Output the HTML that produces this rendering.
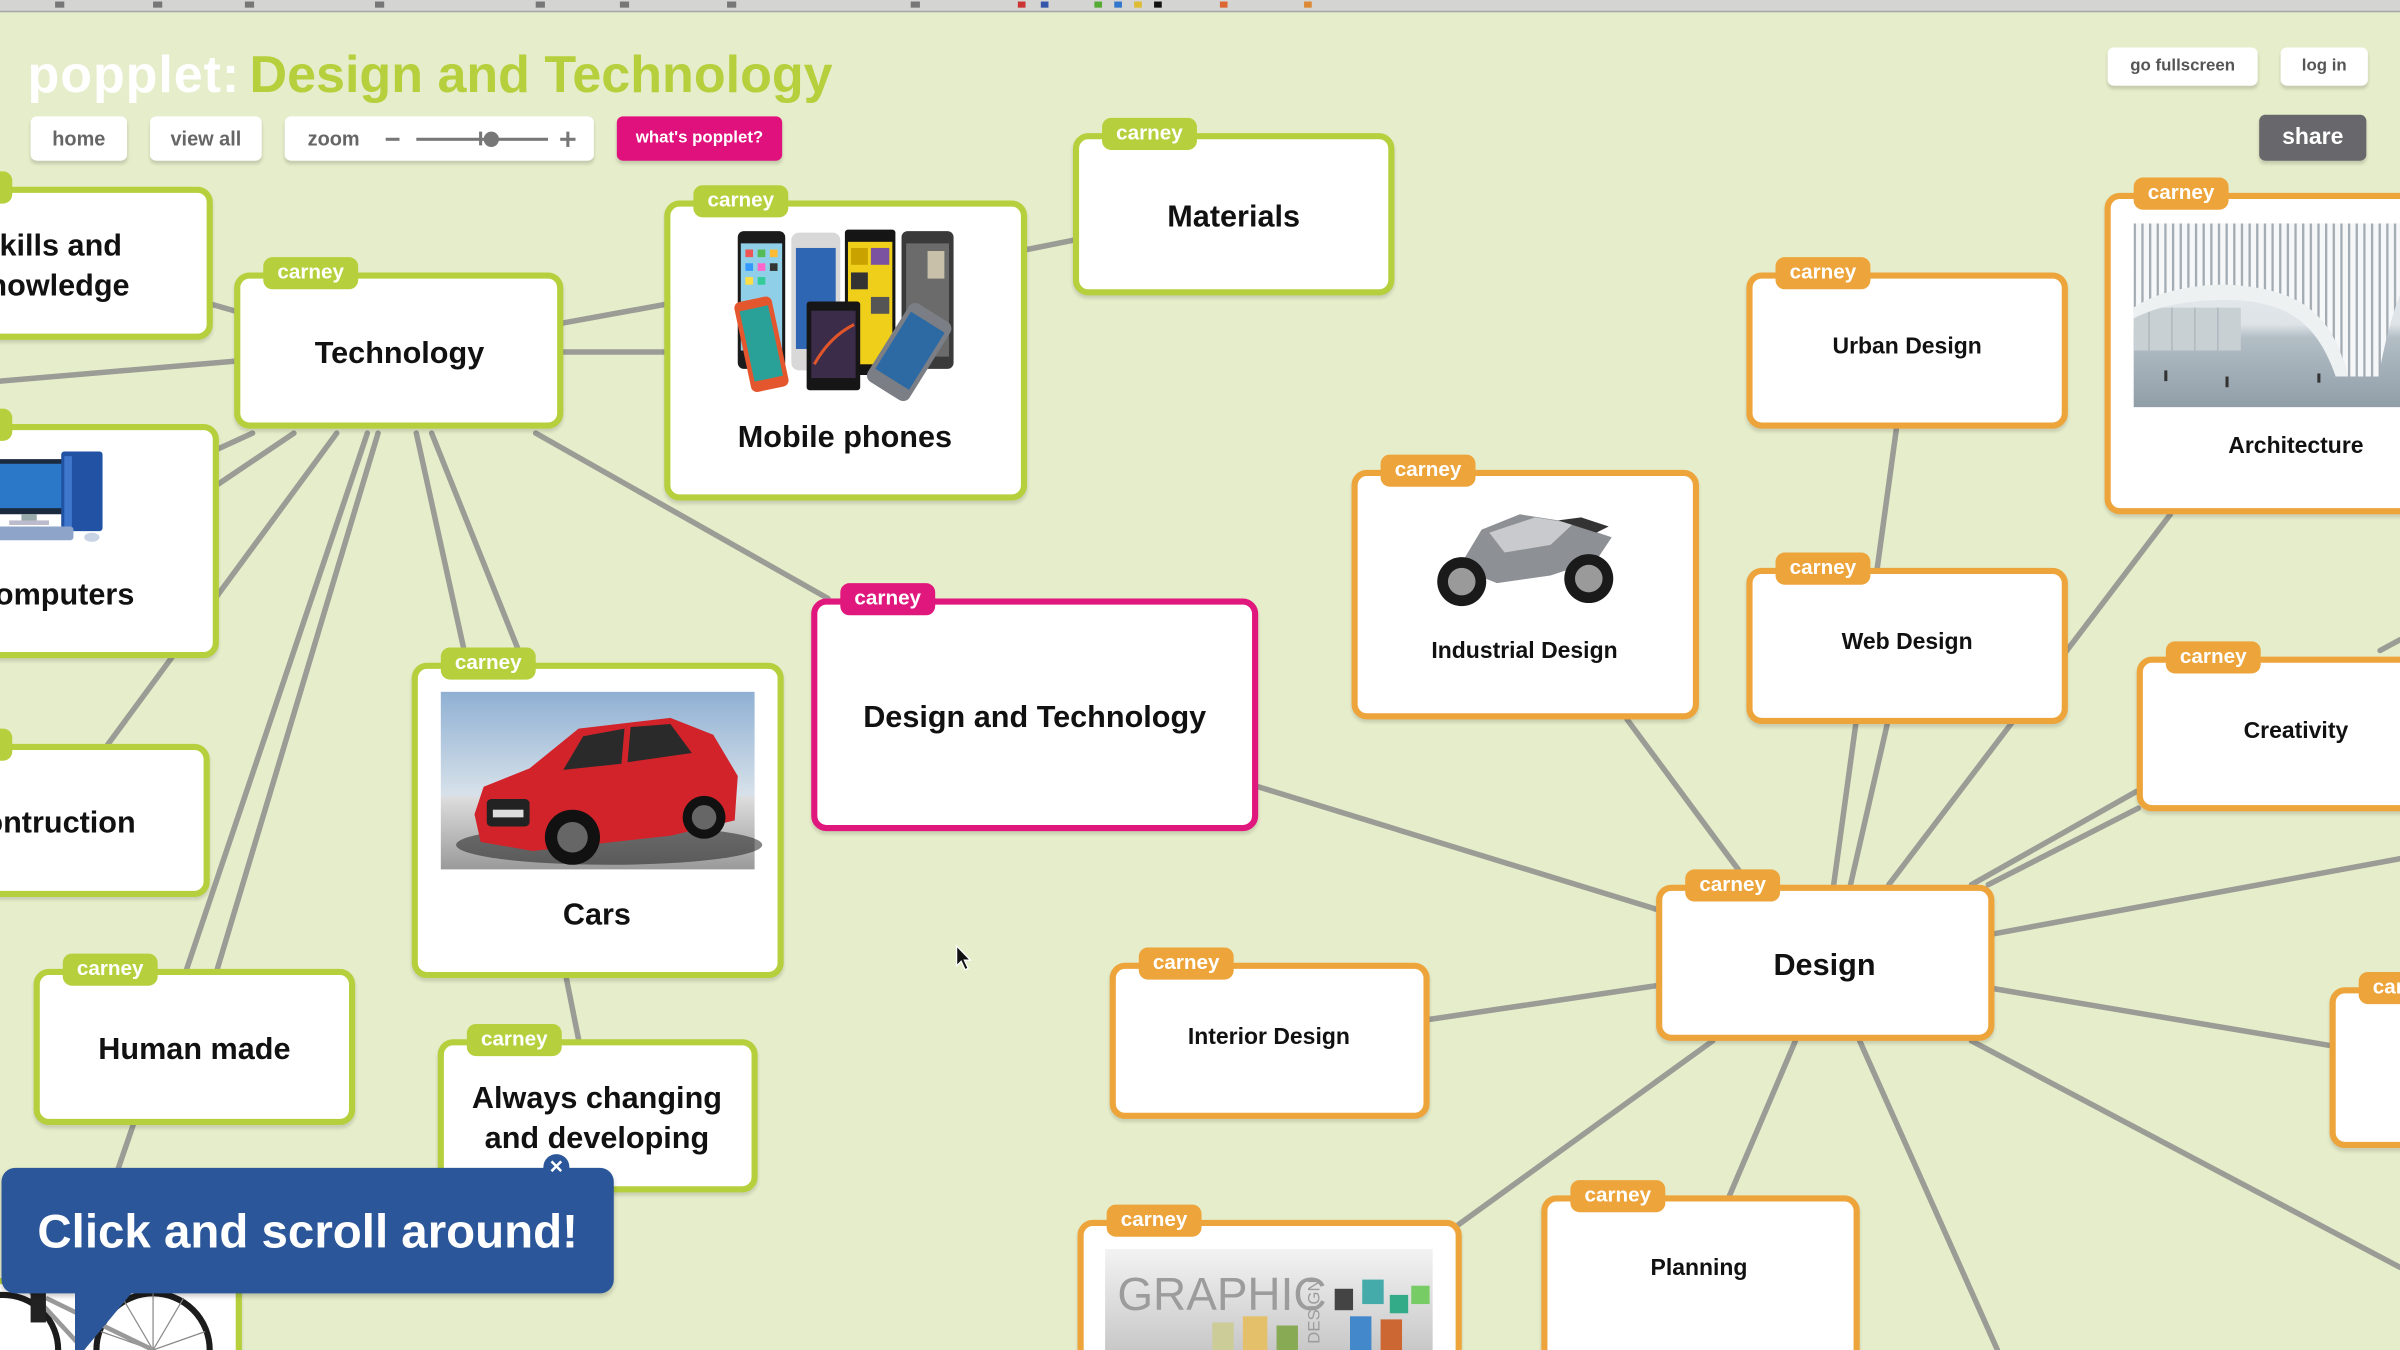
<!DOCTYPE html>
<html><head><meta charset="utf-8">
<style>
html,body{margin:0;padding:0}
body{width:2400px;height:1350px;overflow:hidden;background:#e6edca;position:relative;font-family:"Liberation Sans","DejaVu Sans",sans-serif}
#w{position:absolute;left:0;top:0;width:1568px;height:882px;transform:scale(1.5306122);transform-origin:0 0;overflow:hidden;background:#e6edca}
.n{position:absolute;box-sizing:border-box;border:4px solid;border-radius:10px;background:#fff;box-shadow:0 2px 2px rgba(0,0,0,.13)}
.g{border-color:#b6cf3c}.o{border-color:#eda43a}.m{border-color:#e0187e}
.tag{position:absolute;left:15px;top:-14px;width:62px;height:21px;border-radius:6px;color:#fff;font:bold 13.5px/20px "Liberation Sans",sans-serif;text-align:center}
.g .tag{background:#b6cf3c}.o .tag{background:#eda43a}.m .tag{background:#e0187e}
.lb{position:absolute;width:300px;text-align:center;color:#111;font-weight:bold;white-space:nowrap}
.l20{font-size:20px;line-height:26px}
.l15{font-size:15px;line-height:20px}
.btn{position:absolute;background:#fff;border-radius:4px;box-shadow:0 2px 2px rgba(0,0,0,.15);color:#666;font-weight:bold;text-align:center;white-space:nowrap}
svg{position:absolute;overflow:visible}
</style></head>
<body>
<div id="w">
<!-- browser bar -->
<div style="position:absolute;left:0;top:0;width:1568px;height:7px;background:#d4d4d2;border-bottom:1px solid #a8a8a8"></div>
<svg style="left:0;top:0" width="1568" height="7" viewBox="0 0 1568 7">
<g fill="#777"><rect x="36" y="1" width="6" height="4"/><rect x="100" y="1" width="6" height="4"/><rect x="160" y="1" width="6" height="4"/><rect x="245" y="1" width="6" height="4"/><rect x="350" y="1" width="6" height="4"/><rect x="405" y="1" width="6" height="4"/><rect x="475" y="1" width="6" height="4"/><rect x="595" y="1" width="6" height="4"/></g>
<rect x="665" y="1" width="5" height="4" fill="#c33"/><rect x="680" y="1" width="5" height="4" fill="#35a"/><rect x="715" y="1" width="5" height="4" fill="#5a3"/><rect x="728" y="1" width="5" height="4" fill="#37c"/><rect x="741" y="1" width="5" height="4" fill="#db3"/><rect x="754" y="1" width="5" height="4" fill="#111"/><rect x="797" y="1" width="5" height="4" fill="#d63"/><rect x="852" y="1" width="5" height="4" fill="#d83"/>
</svg>

<!-- connectors -->
<svg style="left:0;top:0" width="1568" height="882" viewBox="0 0 1568 882">
<g stroke="#9a9c95" stroke-width="3.6" stroke-linecap="round" fill="none">
<line x1="139" y1="199" x2="153" y2="203"/>
<line x1="0" y1="249" x2="153" y2="236"/>
<line x1="368" y1="211" x2="434" y2="199"/>
<line x1="368" y1="230" x2="434" y2="230"/>
<line x1="671" y1="163" x2="701" y2="157"/>
<line x1="350" y1="283" x2="541" y2="391"/>
<line x1="165" y1="283" x2="143" y2="293"/>
<line x1="192" y1="283" x2="143" y2="316"/>
<line x1="220" y1="283" x2="70" y2="487"/>
<line x1="240" y1="283" x2="122" y2="633"/>
<line x1="247" y1="283" x2="142" y2="633"/>
<line x1="272" y1="283" x2="305" y2="433"/>
<line x1="282" y1="283" x2="342" y2="433"/>
<line x1="370" y1="639" x2="378" y2="679"/>
<line x1="87" y1="735" x2="75" y2="770"/>
<line x1="822" y1="514" x2="1082" y2="594"/>
<line x1="1063" y1="470" x2="1143" y2="578"/>
<line x1="1239" y1="280" x2="1198" y2="578"/>
<line x1="1233" y1="473" x2="1209" y2="578"/>
<line x1="1418" y1="336" x2="1234" y2="578"/>
<line x1="1396" y1="517" x2="1288" y2="578"/>
<line x1="1397" y1="528" x2="1299" y2="578"/>
<line x1="1303" y1="610" x2="1568" y2="561"/>
<line x1="1303" y1="646" x2="1522" y2="683"/>
<line x1="1288" y1="680" x2="1568" y2="828"/>
<line x1="1215" y1="680" x2="1305" y2="882"/>
<line x1="1173" y1="680" x2="1130" y2="781"/>
<line x1="1119" y1="680" x2="953" y2="800"/>
<line x1="934" y1="666" x2="1082" y2="644"/>
<line x1="1555" y1="425" x2="1568" y2="418"/>
</g>
</svg>

<!-- header -->
<div style="position:absolute;left:18px;top:29px;font-size:34px;line-height:40px;font-weight:bold;white-space:nowrap;letter-spacing:0.6px;color:#fff">popplet:</div>
<div style="position:absolute;left:163px;top:29px;font-size:34px;line-height:40px;font-weight:bold;white-space:nowrap;color:#b6cf3c">Design and Technology</div>

<!-- buttons -->
<div class="btn" style="left:20px;top:76px;width:63px;height:29px;font-size:13px;line-height:29px">home</div>
<div class="btn" style="left:98px;top:76px;width:73px;height:29px;font-size:13px;line-height:29px">view all</div>
<div class="btn" style="left:186px;top:76px;width:202px;height:29px;font-size:13px;line-height:29px;text-align:left"><span style="position:absolute;left:15px">zoom</span></div>
<div style="position:absolute;left:252px;top:89.5px;width:9px;height:2.5px;background:#777"></div>
<div style="position:absolute;left:272px;top:90px;width:86px;height:1.5px;background:#777"></div>
<div style="position:absolute;left:313px;top:86px;width:1.5px;height:9px;background:#777"></div>
<div style="position:absolute;left:316px;top:85.5px;width:10px;height:10px;border-radius:50%;background:#777"></div>
<div style="position:absolute;left:366px;top:89.5px;width:10px;height:2.5px;background:#777"></div>
<div style="position:absolute;left:369.8px;top:85.5px;width:2.5px;height:10px;background:#777"></div>
<div class="btn" style="left:403px;top:76px;width:108px;height:29px;font-size:11px;line-height:29px;background:#e0117c;color:#fff">what's popplet?</div>
<div class="btn" style="left:1377px;top:31px;width:98px;height:25px;font-size:11px;line-height:25px;color:#555">go fullscreen</div>
<div class="btn" style="left:1490px;top:31px;width:57px;height:25px;font-size:11px;line-height:25px;color:#555">log in</div>
<div class="btn" style="left:1476px;top:75px;width:70px;height:30px;font-size:15px;line-height:30px;background:#68686c;color:#fff">share</div>

<!-- nodes -->
<div class="n g" style="left:-73px;top:122px;width:212px;height:100px"><div class="tag">carney</div></div>
<div class="n g" style="left:153px;top:178px;width:215px;height:102px"><div class="tag">carney</div></div>
<div class="n g" style="left:434px;top:131px;width:237px;height:196px"><div class="tag">carney</div></div>
<div class="n g" style="left:701px;top:87px;width:210px;height:106px"><div class="tag">carney</div></div>
<div class="n g" style="left:-73px;top:277px;width:216px;height:153px"><div class="tag">carney</div></div>
<div class="n g" style="left:-73px;top:486px;width:210px;height:100px"><div class="tag">carney</div></div>
<div class="n g" style="left:269px;top:433px;width:243px;height:206px"><div class="tag">carney</div></div>
<div class="n g" style="left:22px;top:633px;width:210px;height:102px"><div class="tag">carney</div></div>
<div class="n g" style="left:286px;top:679px;width:209px;height:100px"><div class="tag">carney</div></div>
<div class="n g" style="left:-60px;top:835px;width:218px;height:80px"></div>
<div class="n m" style="left:530px;top:391px;width:292px;height:152px"><div class="tag">carney</div></div>
<div class="n o" style="left:883px;top:307px;width:227px;height:163px"><div class="tag">carney</div></div>
<div class="n o" style="left:1141px;top:178px;width:210px;height:102px"><div class="tag">carney</div></div>
<div class="n o" style="left:1141px;top:371px;width:210px;height:102px"><div class="tag">carney</div></div>
<div class="n o" style="left:1375px;top:126px;width:250px;height:210px"><div class="tag">carney</div></div>
<div class="n o" style="left:1396px;top:429px;width:210px;height:101px"><div class="tag">carney</div></div>
<div class="n o" style="left:1082px;top:578px;width:221px;height:102px"><div class="tag">carney</div></div>
<div class="n o" style="left:725px;top:629px;width:209px;height:102px"><div class="tag">carney</div></div>
<div class="n o" style="left:704px;top:797px;width:251px;height:110px"><div class="tag">carney</div></div>
<div class="n o" style="left:1007px;top:781px;width:208px;height:120px"><div class="tag">carney</div></div>
<div class="n o" style="left:1522px;top:645px;width:210px;height:105px"><div class="tag">carney</div></div>

<!-- labels -->
<div class="lb l20" style="left:-117px;top:148px">Skills and<br>knowledge</div>
<div class="lb l20" style="left:111px;top:218px">Technology</div>
<div class="lb l20" style="left:402px;top:273px">Mobile phones</div>
<div class="lb l20" style="left:656px;top:129px">Materials</div>
<div class="lb l20" style="left:-115px;top:376px">Computers</div>
<div class="lb l20" style="left:-118px;top:525px">Contruction</div>
<div class="lb l20" style="left:240px;top:585px">Cars</div>
<div class="lb l20" style="left:526px;top:456px">Design and Technology</div>
<div class="lb l20" style="left:-23px;top:673px">Human made</div>
<div class="lb l20" style="left:240px;top:705px">Always changing<br>and developing</div>
<div class="lb l15" style="left:846px;top:416px">Industrial Design</div>
<div class="lb l15" style="left:1096px;top:217px">Urban Design</div>
<div class="lb l15" style="left:1096px;top:410px">Web Design</div>
<div class="lb l15" style="left:1350px;top:282px">Architecture</div>
<div class="lb l15" style="left:1350px;top:468px">Creativity</div>
<div class="lb l20" style="left:1042px;top:618px">Design</div>
<div class="lb l15" style="left:679px;top:668px">Interior Design</div>
<div class="lb l15" style="left:960px;top:819px">Planning</div>

<!-- phones image -->
<svg style="left:480px;top:150px" width="145" height="107" viewBox="0 0 145 107">
<rect x="2" y="1" width="31" height="90" rx="4" fill="#1b1b1b"/>
<rect x="4" y="9" width="27" height="70" fill="#8fd0e8"/>
<g><rect x="7" y="13" width="5" height="5" fill="#e55"/><rect x="15" y="13" width="5" height="5" fill="#5b5"/><rect x="23" y="13" width="5" height="5" fill="#fb3"/><rect x="7" y="22" width="5" height="5" fill="#39f"/><rect x="15" y="22" width="5" height="5" fill="#f6c"/><rect x="23" y="22" width="5" height="5" fill="#333"/><rect x="7" y="31" width="5" height="5" fill="#fd4"/><rect x="15" y="31" width="5" height="5" fill="#3c9"/></g>
<rect x="37" y="2" width="32" height="90" rx="5" fill="#d8d8d8"/>
<rect x="40" y="12" width="26" height="66" fill="#2f66b3"/>
<rect x="72" y="0" width="33" height="95" rx="2" fill="#151515"/>
<rect x="74" y="8" width="29" height="80" fill="#f0cf1a"/>
<g fill="#c9a200"><rect x="76" y="12" width="11" height="11"/><rect x="89" y="12" width="12" height="11" fill="#7a52a0"/><rect x="76" y="28" width="11" height="11" fill="#333"/><rect x="89" y="44" width="12" height="11" fill="#555"/></g>
<rect x="109" y="1" width="34" height="90" rx="4" fill="#3a3a3a"/>
<rect x="112" y="9" width="28" height="74" fill="#6b6b6b"/>
<rect x="126" y="14" width="11" height="18" fill="#c8c0a8"/>
<g transform="rotate(-12 17 75)"><rect x="5" y="45" width="25" height="60" rx="4" fill="#e4572e"/><rect x="8" y="51" width="19" height="47" fill="#2aa198"/></g>
<rect x="47" y="47" width="35" height="58" rx="2" fill="#161616"/><rect x="50" y="53" width="29" height="44" fill="#3b2c4a"/>
<path d="M52 88 Q62 70 78 62" stroke="#e0552a" stroke-width="2" fill="none"/>
<g transform="rotate(32 114 80)"><rect x="98" y="50" width="32" height="60" rx="5" fill="#7b7f85"/><rect x="101" y="57" width="26" height="44" fill="#2d6aa3"/></g>
</svg>

<!-- computer image -->
<svg style="left:0;top:295px" width="70" height="62" viewBox="0 0 70 62">
<rect x="-4" y="5" width="48" height="36" rx="2" fill="#1c2a40"/>
<rect x="-2" y="8" width="43" height="29" fill="#2c78c8"/>
<rect x="14" y="41" width="10" height="5" fill="#9aa"/>
<rect x="6" y="45" width="26" height="3" fill="#bbc"/>
<rect x="40" y="0" width="27" height="52" rx="2" fill="#2152a3"/>
<rect x="42" y="3" width="5" height="46" fill="#3f77cc"/>
<rect x="-4" y="49" width="52" height="9" rx="2" fill="#8ea5c9"/>
<ellipse cx="60" cy="56" rx="5" ry="3" fill="#c8d4e6"/>
</svg>

<!-- car image -->
<svg style="left:288px;top:452px" width="205" height="116" viewBox="0 0 205 116">
<defs><linearGradient id="sky" x1="0" y1="0" x2="0" y2="1"><stop offset="0" stop-color="#8fb0d3"/><stop offset=".58" stop-color="#d7e1ea"/><stop offset=".6" stop-color="#dcdcdc"/><stop offset="1" stop-color="#9a9a9a"/></linearGradient></defs>
<rect width="205" height="116" fill="url(#sky)"/>
<ellipse cx="110" cy="100" rx="100" ry="13" fill="#222" opacity=".55"/>
<path d="M22 80 L28 62 L58 50 L90 24 L150 17 L178 28 L194 55 L192 84 L150 94 L60 104 L26 98 Z" fill="#d2232a"/>
<path d="M93 29 L120 24 L118 47 L80 51 Z" fill="#2a2a2a"/>
<path d="M124 23 L150 21 L164 40 L122 46 Z" fill="#2a2a2a"/>
<rect x="30" y="70" width="28" height="18" rx="3" fill="#222"/>
<rect x="34" y="77" width="20" height="5" fill="#ddd"/>
<circle cx="86" cy="95" r="18" fill="#111"/><circle cx="86" cy="95" r="10" fill="#666"/>
<circle cx="172" cy="82" r="14" fill="#111"/><circle cx="172" cy="82" r="8" fill="#666"/>
</svg>

<!-- motorbike image -->
<svg style="left:933px;top:326px" width="127" height="71" viewBox="0 0 127 71">
<path d="M20 45 L35 20 L60 10 L85 14 L105 20 L120 25 L110 40 L80 50 L45 55 Z" fill="#8d9094"/>
<path d="M40 22 L70 12 L95 16 L80 30 L50 35 Z" fill="#c8cacd"/>
<path d="M85 14 L110 22 L118 18 L100 12 Z" fill="#333"/>
<circle cx="22" cy="54" r="16" fill="#1a1a1a"/><circle cx="22" cy="54" r="9" fill="#9a9a9a"/>
<circle cx="105" cy="52" r="16" fill="#1a1a1a"/><circle cx="105" cy="52" r="9" fill="#9a9a9a"/>
</svg>

<!-- architecture image -->
<svg style="left:1394px;top:146px" width="212" height="120" viewBox="0 0 212 120">
<defs><linearGradient id="ar" x1="0" y1="0" x2="0" y2="1"><stop offset="0" stop-color="#eef1f3"/><stop offset=".55" stop-color="#dde3e7"/><stop offset=".62" stop-color="#b3bec5"/><stop offset="1" stop-color="#909ea8"/></linearGradient>
<pattern id="st" width="5" height="10" patternUnits="userSpaceOnUse"><rect width="5" height="10" fill="#f6f7f8"/><rect width="1.5" height="10" fill="#a3acb3"/></pattern></defs>
<rect width="212" height="120" fill="url(#ar)"/>
<rect x="0" y="55" width="70" height="28" fill="#c9d0d4"/>
<g stroke="#aab3b9" stroke-width="0.8"><line x1="10" y1="55" x2="10" y2="83"/><line x1="25" y1="55" x2="25" y2="83"/><line x1="40" y1="55" x2="40" y2="83"/><line x1="55" y1="55" x2="55" y2="83"/></g>
<path d="M0 0 H212 V8 C185 10 170 45 160 100 L140 100 C130 60 110 42 60 40 C30 40 10 48 0 55 Z" fill="url(#st)"/>
<path d="M0 55 C10 48 30 40 60 40 C110 42 130 60 140 100 L132 100 C120 65 100 50 60 50 C30 50 12 56 0 62 Z" fill="#eef1f2"/>
<g fill="#333"><rect x="20" y="96" width="2" height="7"/><rect x="60" y="100" width="2" height="7"/><rect x="120" y="98" width="2" height="6"/></g>
</svg>

<!-- graphic image -->
<svg style="left:722px;top:816px" width="214" height="66" viewBox="0 0 214 66">
<defs><linearGradient id="gr" x1="0" y1="0" x2="0" y2="1"><stop offset="0" stop-color="#f3f3f3"/><stop offset="1" stop-color="#c8c8c8"/></linearGradient></defs>
<rect width="214" height="66" fill="url(#gr)"/>
<text x="8" y="40" font-family="Liberation Sans, sans-serif" font-size="30" fill="#9c9c9c">GRAPHIC</text>
<rect x="150" y="26" width="12" height="14" fill="#444"/><rect x="168" y="20" width="14" height="16" fill="#4aa"/><rect x="186" y="30" width="12" height="12" fill="#3a8"/><rect x="200" y="24" width="12" height="12" fill="#7c6"/>
<rect x="70" y="48" width="14" height="18" fill="#cc9"/><rect x="90" y="44" width="16" height="22" fill="#e5c06a"/><rect x="112" y="50" width="14" height="16" fill="#8a5"/><rect x="160" y="44" width="14" height="22" fill="#48c"/><rect x="180" y="46" width="14" height="20" fill="#c63"/>
<text x="140" y="62" font-family="Liberation Sans, sans-serif" font-size="11" fill="#9c9c9c" transform="rotate(-90 140 62)">DESIGN</text>
</svg>

<!-- bicycle image -->
<svg style="left:0;top:840px" width="160" height="42" viewBox="0 0 160 42">
<circle cx="100" cy="42" r="37" fill="none" stroke="#1c1c1c" stroke-width="4"/>
<circle cx="2" cy="42" r="36" fill="none" stroke="#1c1c1c" stroke-width="4"/>
<g stroke="#888" stroke-width="0.8"><line x1="100" y1="42" x2="80" y2="8"/><line x1="100" y1="42" x2="120" y2="8"/><line x1="100" y1="42" x2="66" y2="30"/><line x1="100" y1="42" x2="134" y2="30"/><line x1="100" y1="42" x2="100" y2="5"/></g>
<g stroke="#999" stroke-width="3"><line x1="20" y1="4" x2="55" y2="42"/><line x1="30" y1="8" x2="100" y2="42"/></g>
<rect x="20" y="2" width="10" height="22" fill="#222"/>
</svg>

<!-- cursor -->
<svg style="left:624px;top:617px" width="12" height="18" viewBox="0 0 12 18">
<path d="M1 1 L1 14 L4 11 L6.5 16.5 L8.5 15.6 L6 10.3 L10 10.3 Z" fill="#111" stroke="#fff" stroke-width="0.8"/>
</svg>

<!-- tooltip -->
<div style="position:absolute;left:1px;top:763px;width:400px;height:82px;background:#2b579a;border-radius:9px;box-shadow:0 2px 3px rgba(0,0,0,.2)"></div>
<svg style="left:0;top:840px" width="100" height="42" viewBox="0 0 100 42">
<polygon points="49,0 90,0 55,42 49,42" fill="#2b579a"/>
</svg>
<div style="position:absolute;left:355px;top:754px;width:17px;height:17px;border-radius:50%;background:#2b579a;color:#fff;font:bold 15px/17px 'Liberation Sans',sans-serif;text-align:center">×</div>
<div style="position:absolute;left:1px;top:785px;width:400px;text-align:center;color:#fff;font-weight:bold;font-size:31px;line-height:40px;white-space:nowrap">Click and scroll around!</div>
</div>
</body></html>
